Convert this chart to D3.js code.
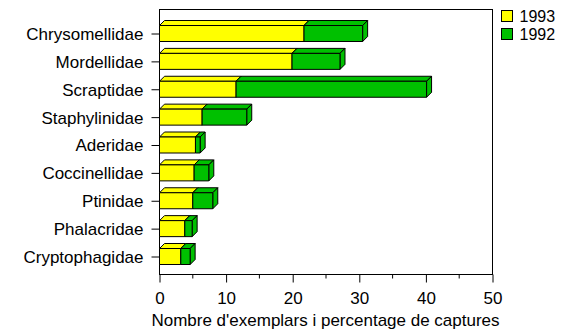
<!DOCTYPE html>
<html>
<head>
<meta charset="utf-8">
<script src="https://cdn.jsdelivr.net/npm/d3@7"></script>
<style>
  html, body { margin: 0; padding: 0; background: #fff; }
  svg { display: block; }
  text { font-family: "Liberation Sans", Arial, sans-serif; fill: #000; }
</style>
</head>
<body>
<svg id="chart" width="561" height="330"></svg>
<script>
// Beetle families, top to bottom
const families = ["Chrysomellidae", "Mordellidae", "Scraptidae", "Staphylinidae", "Aderidae",
                  "Coccinellidae", "Ptinidae", "Phalacridae", "Cryptophagidae"];
// Percentage of captures per year (stacked: 1993 first, then 1992)
const values1993 = [21.7, 19.9, 11.5, 6.4, 5.4, 5.2, 5.0, 3.8, 3.2];
const values1992 = [8.8, 7.2, 28.6, 6.7, 0.7, 2.2, 3.0, 1.1, 1.4];
const years = ["1993", "1992"];
const yearColors = ["#ffff00", "#00c000"];
const xTicks = [0, 10, 20, 30, 40, 50];
const xMinorTicks = [5, 15, 25, 35, 45];
const xTitle = "Nombre d'exemplars i percentage de captures";

const svg = d3.select("#chart");
const plot = { left: 159.5, right: 492.5, top: 9.5, bottom: 274.5 };

const x = d3.scaleLinear().domain([0, 50]).range([plot.left, plot.right]);
const y = d3.scalePoint().domain(families).range([33.5, 256.5]);
const barH = 16;
const depth = 5;

// plot frame
svg.append("rect")
  .attr("x", plot.left).attr("y", plot.top)
  .attr("width", plot.right - plot.left).attr("height", plot.bottom - plot.top)
  .attr("fill", "none").attr("stroke", "#000").attr("stroke-width", 1);

// category axis: ticks pointing left
const yAxis = d3.axisLeft(y).tickSize(8).tickPadding(8);
const gy = svg.append("g").attr("transform", `translate(${plot.left},0)`).call(yAxis);
gy.select(".domain").remove();
gy.selectAll("text").style("font-size", "17px").attr("dy", "0.35em");

// value axis: major ticks with labels, minor ticks unlabeled
const xAxis = d3.axisBottom(x).tickValues(xTicks).tickSize(8).tickPadding(9).tickFormat(d3.format("d"));
const gx = svg.append("g").attr("transform", `translate(0,${plot.bottom})`).call(xAxis);
gx.select(".domain").remove();
gx.selectAll("text").style("font-size", "17px");
svg.append("g").attr("transform", `translate(0,${plot.bottom})`)
  .selectAll("line").data(xMinorTicks).join("line")
  .attr("x1", d => x(d)).attr("x2", d => x(d))
  .attr("y1", 0).attr("y2", 4)
  .attr("stroke", "#000");

svg.append("text")
  .attr("x", (plot.left + plot.right) / 2 - 0.5).attr("y", 326)
  .attr("text-anchor", "middle").style("font-size", "17px")
  .text(xTitle);

// stacked 3D bars
const rows = families.map((f, i) => ({ family: f, "1993": values1993[i], "1992": values1992[i] }));
const stacked = d3.stack().keys(years)(rows);

const layers = svg.append("g").selectAll("g").data(stacked).join("g")
  .attr("fill", (d, i) => yearColors[i])
  .attr("stroke", "#000").attr("stroke-width", 1).attr("stroke-linejoin", "round");

layers.each(function (layer) {
  const g = d3.select(this);
  layer.forEach(seg => {
    const x0 = x(seg[0]), x1 = x(seg[1]);
    const yt = y(seg.data.family) - barH / 2, yb = yt + barH;
    // top face
    g.append("path").attr("d",
      `M${x0},${yt}L${x0 + depth},${yt - depth}L${x1 + depth},${yt - depth}L${x1},${yt}Z`);
    // right face
    g.append("path").attr("d",
      `M${x1},${yt}L${x1 + depth},${yt - depth}L${x1 + depth},${yb - depth}L${x1},${yb}Z`);
    // front face
    g.append("rect").attr("x", x0).attr("y", yt).attr("width", x1 - x0).attr("height", barH);
  });
});

// legend
const legend = svg.append("g").selectAll("g").data(years).join("g")
  .attr("transform", (d, i) => `translate(501.5,${10.5 + i * 18})`);
legend.append("rect").attr("width", 11).attr("height", 11)
  .attr("fill", (d, i) => yearColors[i]).attr("stroke", "#000");
legend.append("text").attr("x", 18).attr("y", 11).style("font-size", "16px").text(d => d);
</script>
</body>
</html>
